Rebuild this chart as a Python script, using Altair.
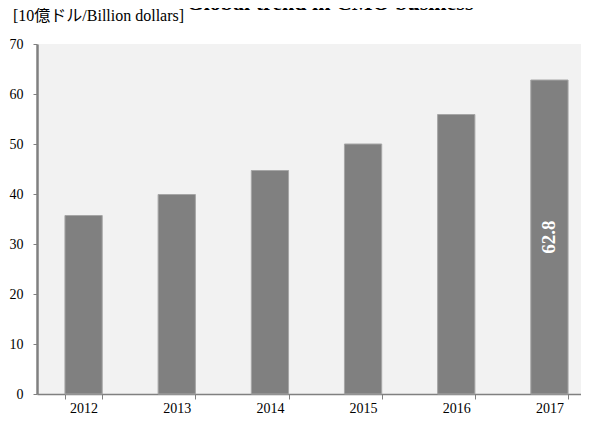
import altair as alt
import pandas as pd

years = ["2012", "2013", "2014", "2015", "2016", "2017"]
values = [35.7, 39.9, 44.7, 50.0, 55.9, 62.8]
label_years = ["2017"]
label_values = [62.8]

title_text = "Global trend in CMO business"
unit_text = "[10億ドル/Billion dollars]"

SERIF = "Liberation Serif, 'Noto Sans CJK JP', serif"

df = pd.DataFrame({"year": years, "value": values})
lab = pd.DataFrame({"year": label_years, "value": label_values,
                    "mid": [v / 2 for v in label_values],
                    "txt": [f"{v:.1f}" for v in label_values]})

x_enc = alt.X("year:N", sort=years, title=None,
              scale=alt.Scale(paddingInner=0.6, paddingOuter=0.3, range=[0, 559]),
              axis=alt.Axis(labelAngle=0, tickBand="extent", labelFont=SERIF,
                            labelFontSize=14, labelColor="#000000",
                            domainColor="#808080", domainWidth=1.5,
                            tickColor="#808080", tickSize=5, labelPadding=2))

bars = alt.Chart(df).mark_bar(color="#808080", stroke="#a6a6a6", strokeWidth=1).encode(
    x=x_enc,
    y=alt.Y("value:Q", title=None,
            scale=alt.Scale(domain=[0, 70], nice=False),
            axis=alt.Axis(values=[0, 10, 20, 30, 40, 50, 60, 70], grid=False,
                          labelFont=SERIF, labelFontSize=14, labelColor="#000000",
                          domainColor="#808080", domainWidth=2.5,
                          tickColor="#808080", tickSize=4, labelPadding=10)),
)

labels = alt.Chart(lab).mark_text(angle=270, color="white", fontWeight="bold",
                                  font=SERIF, fontSize=19).encode(
    x=alt.X("year:N", sort=years),
    y=alt.Y("mid:Q"),
    text="txt:N",
)

unit = alt.Chart(pd.DataFrame({"t": [unit_text]})).mark_text(
    align="left", baseline="middle", font=SERIF, fontSize=16, color="#000000"
).encode(x=alt.value(-24), y=alt.value(-28), text="t:N")

title = alt.Chart(pd.DataFrame({"t": [title_text]})).mark_text(
    align="center", baseline="alphabetic", font=SERIF, fontSize=22,
    fontWeight="bold", color="#000000"
).encode(x=alt.value(293), y=alt.value(-34), text="t:N")

chart = alt.layer(bars, labels, unit, title).properties(
    width=544, height=350,
    autosize=alt.AutoSizeParams(type="none"),
    padding={"left": 29, "top": 36, "right": 0, "bottom": 20},
).configure_view(fill="#f2f2f2", stroke=None)

chart.save("out.html", embed_options={"renderer": "svg", "actions": False})
